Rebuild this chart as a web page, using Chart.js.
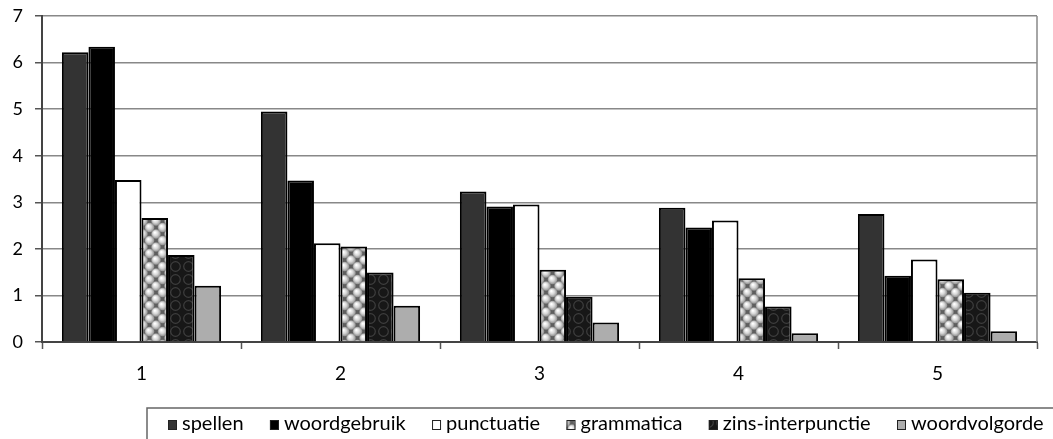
<!DOCTYPE html>
<html>
<head>
<meta charset="utf-8">
<script src="https://cdn.jsdelivr.net/npm/chart.js@4/dist/chart.umd.min.js"></script>
<style>
  html, body { margin: 0; padding: 0; background: #fff; }
  #wrap { width: 1053px; height: 439px; }
</style>
</head>
<body>
<div id="wrap"><canvas id="chart" width="1053" height="439"></canvas></div>
<script>
// Categories and series values
const categories = ['1', '2', '3', '4', '5'];
const seriesNames = ['spellen', 'woordgebruik', 'punctuatie', 'grammatica', 'zins-interpunctie', 'woordvolgorde'];
const spellen          = [6.22, 4.95, 3.23, 2.88, 2.75];
const woordgebruik     = [6.34, 3.47, 2.91, 2.46, 1.42];
const punctuatie       = [3.48, 2.12, 2.95, 2.61, 1.77];
const grammatica       = [2.66, 2.05, 1.55, 1.37, 1.35];
const zinsInterpunctie = [1.87, 1.49, 0.97, 0.76, 1.06];
const woordvolgorde    = [1.21, 0.78, 0.42, 0.19, 0.23];
const yTickLabels = ['0', '1', '2', '3', '4', '5', '6', '7'];

// Textured fills
function bubblePattern() {
  const c = document.createElement('canvas');
  c.width = 13; c.height = 13;
  const g = c.getContext('2d');
  g.fillStyle = '#5e5e5e';
  g.fillRect(0, 0, 13, 13);
  const centers = [[0, 0], [13, 0], [0, 13], [13, 13], [6.5, 6.5]];
  centers.forEach(([x, y]) => {
    const rg = g.createRadialGradient(x - 1.2, y - 1.5, 0.5, x, y, 4.8);
    rg.addColorStop(0, '#ffffff');
    rg.addColorStop(0.5, '#d6d6d6');
    rg.addColorStop(1, '#8c8c8c');
    g.fillStyle = rg;
    g.beginPath(); g.arc(x, y, 4.8, 0, Math.PI * 2); g.fill();
  });
  return g.createPattern(c, 'repeat');
}
function ringPattern() {
  const c = document.createElement('canvas');
  c.width = 13; c.height = 13;
  const g = c.getContext('2d');
  g.fillStyle = '#171717';
  g.fillRect(0, 0, 13, 13);
  g.strokeStyle = '#3e3e3e';
  g.lineWidth = 1.2;
  g.beginPath(); g.arc(6.5, 6.5, 4.8, 0, Math.PI * 2); g.stroke();
  return g.createPattern(c, 'repeat');
}

const fills = ['#333333', '#000000', '#ffffff', bubblePattern(), ringPattern(), '#adadad'];
const values = [spellen, woordgebruik, punctuatie, grammatica, zinsInterpunctie, woordvolgorde];

const datasets = seriesNames.map((name, i) => ({
  label: name,
  data: values[i],
  backgroundColor: fills[i],
  borderColor: '#000000',
  borderWidth: 2,
  categoryPercentage: 0.8,
  barPercentage: 1.0
}));

// Plot frame on the right side
const frame = {
  id: 'frame',
  afterDatasetsDraw(chart) {
    const { ctx, chartArea: a } = chart;
    ctx.save();
    ctx.strokeStyle = '#888888';
    ctx.lineWidth = 1.5;
    ctx.beginPath();
    ctx.moveTo(a.right, a.top);
    ctx.lineTo(a.right, a.bottom);
    ctx.stroke();
    ctx.restore();
  }
};

// Boxed legend along the bottom
const boxedLegend = {
  id: 'boxedLegend',
  afterDraw(chart) {
    const { ctx } = chart;
    ctx.save();
    ctx.strokeStyle = '#666666';
    ctx.lineWidth = 1.5;
    ctx.beginPath();
    ctx.moveTo(1060, 408);
    ctx.lineTo(147, 408);
    ctx.lineTo(147, 445);
    ctx.stroke();

    ctx.font = '20px Lato';
    ctx.textBaseline = 'alphabetic';
    const widths = chart.data.datasets.map(d => ctx.measureText(d.label).width);
    const startX = 168, lastX = 897, box = 9, gap = 5;
    const used = widths.slice(0, -1).reduce((s, w) => s + w + box + gap, 0);
    const spacing = (lastX - startX - used) / (widths.length - 1);
    let x = startX;
    chart.data.datasets.forEach((d, i) => {
      ctx.fillStyle = d.backgroundColor;
      ctx.fillRect(x, 420, box, 10);
      ctx.strokeStyle = '#222';
      ctx.lineWidth = 1;
      ctx.strokeRect(x + 0.5, 420.5, box - 1, 9);
      ctx.fillStyle = '#000';
      ctx.fillText(d.label, x + box + gap, 430);
      x += box + gap + widths[i] + spacing;
    });
    ctx.restore();
  }
};

new Chart(document.getElementById('chart'), {
  type: 'bar',
  data: { labels: categories, datasets },
  options: {
    responsive: false,
    animation: false,
    devicePixelRatio: 1,
    layout: { padding: { left: 0, right: 16, top: 0, bottom: 0 } },
    plugins: { legend: { display: false }, tooltip: { enabled: false } },
    scales: {
      x: {
        afterFit(scale) { scale.height = 97; },
        grid: { offset: true, drawOnChartArea: false, tickLength: 7, tickColor: '#555', tickWidth: 1.5 },
        border: { color: '#444', width: 2 },
        ticks: { color: '#000', font: { family: 'Lato', size: 19 }, padding: 13 }
      },
      y: {
        min: 0, max: 7,
        afterFit(scale) { scale.width = 42; scale.paddingTop = 16; },
        grid: { color: '#888888', lineWidth: 1.5, tickLength: 7, tickColor: '#555' },
        border: { color: '#444', width: 2 },
        ticks: {
          stepSize: 1,
          padding: 12,
          color: '#000',
          font: { family: 'Lato', size: 18 },
          callback: (v) => yTickLabels[v]
        }
      }
    }
  },
  plugins: [frame, boxedLegend]
});
</script>
</body>
</html>
